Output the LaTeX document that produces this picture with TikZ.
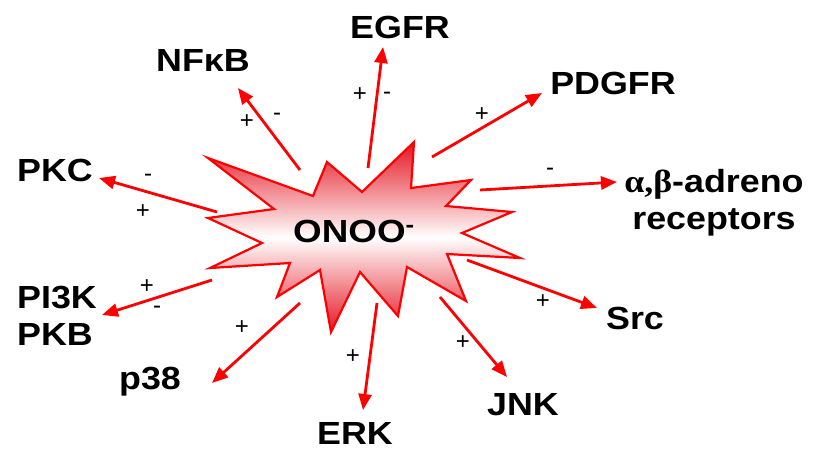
\documentclass[tikz,border=0pt]{standalone}
\usepackage{fontspec}
\setmainfont{Liberation Sans}
\newfontfamily\serifgreek{Liberation Serif}
\usetikzlibrary{arrows.meta}
\definecolor{burst}{RGB}{228,22,34}
\newcommand\wide[1]{\scalebox{1.12}[1]{#1}}
\def\starpath{(208,158) -- (313,196) -- (327,162) -- (362,192) -- (414,142) -- (411,188)
 -- (471,180) -- (446,206) -- (512,212) -- (462,233) -- (520,258) -- (447,254)
 -- (466,301) -- (407,267) -- (398,316) -- (360,272) -- (331,332) -- (320,270)
 -- (277,297) -- (290,263) -- (210,268) -- (262,243) -- (208,218) -- (274,209) -- cycle}
\begin{document}
\begin{tikzpicture}[x=1pt,y=-1pt,
  lbl/.style={font=\fontsize{32}{36}\selectfont\bfseries, inner sep=0pt, align=center},
  sgn/.style={font=\fontsize{24}{26}\selectfont, inner sep=0pt},
  arr/.style={draw=red, line width=2.8pt, -{Triangle[length=16pt,width=13pt]}},
]
\useasboundingbox (0,0) rectangle (814,451);
% starburst with vertical red-white-red gradient
\begin{scope}
\clip \starpath;
\foreach \i in {0,...,95}{
  \pgfmathsetmacro\p{min(100,abs(142+2*\i-237)/95*100)}
  \fill[burst!\p!white] (200,{142+2*\i}) rectangle (530,{144.6+2*\i});
}
\end{scope}
\draw[red, line width=2.2pt, line join=miter] \starpath;
\node[lbl] (c) at (354,231) {\scalebox{1.15}[1]{ONOO\textsuperscript{-}}};
% labels
\node[lbl] (egfr) at (400,27) {\wide{EGFR}};
\node[lbl] (nfkb) at (203,60) {\wide{NFκB}};
\node[lbl] (pdgfr) at (613,83) {\wide{PDGFR}};
\node[lbl] (adr) at (714,184) {\wide{{\serifgreek α,β}-adreno}};
\node[lbl] (rec) at (714,222) {\wide{receptors}};
\node[lbl] (pi3k) at (57,297) {\wide{PI3K}};
\node[lbl] (pkc) at (55,170) {\wide{PKC}};
\node[lbl] (pkb) at (55,334) {\wide{PKB}};
\node[lbl] (p38) at (150,382) {\wide{p38}};
\node[lbl] (erk) at (355,433) {\wide{ERK}};
\node[lbl] (jnk) at (523,405) {\wide{JNK}};
\node[lbl] (src) at (635,318) {\wide{Src}};
% arrow ends
\coordinate (sEgfr) at (368,168); \coordinate (tEgfr) at (383,47);
\coordinate (sNf) at (300,170); \coordinate (tNf) at (238,88);
\coordinate (sPd) at (432,157); \coordinate (tPd) at (542,93);
\coordinate (sAd) at (480,190); \coordinate (tAd) at (617,182);
\coordinate (sPkc) at (217,212); \coordinate (tPkc) at (99,178);
\coordinate (sPi) at (212,280); \coordinate (tPi) at (102,315);
\coordinate (sP38) at (300,303); \coordinate (tP38) at (212,383);
\coordinate (sErk) at (377,303); \coordinate (tErk) at (363,410);
\coordinate (sJnk) at (440,297); \coordinate (tJnk) at (507,377);
\coordinate (sSrc) at (467,260); \coordinate (tSrc) at (597,308);
\draw[arr] (sEgfr) -- (tEgfr);
\draw[arr] (sNf) -- (tNf);
\draw[arr] (sPd) -- (tPd);
\draw[arr] (sAd) -- (tAd);
\draw[arr] (sPkc) -- (tPkc);
\draw[arr] (sPi) -- (tPi);
\draw[arr] (sP38) -- (tP38);
\draw[arr] (sErk) -- (tErk);
\draw[arr] (sJnk) -- (tJnk);
\draw[arr] (sSrc) -- (tSrc);
% signs
\node[sgn] (g1) at (360,95) {+};
\node[sgn] (g2) at (387,96) {-};
\node[sgn] (g3) at (247,122) {+};
\node[sgn] (g4) at (277,117) {-};
\node[sgn] (g5) at (482,115) {+};
\node[sgn] (g6) at (550,172) {-};
\node[sgn] (g7) at (148,178) {-};
\node[sgn] (g8) at (143,212) {+};
\node[sgn] (g9) at (147,287) {+};
\node[sgn] (g10) at (157,310) {-};
\node[sgn] (g11) at (242,328) {+};
\node[sgn] (g12) at (353,357) {+};
\node[sgn] (g13) at (463,343) {+};
\node[sgn] (g14) at (543,302) {+};
\end{tikzpicture}
\end{document}
